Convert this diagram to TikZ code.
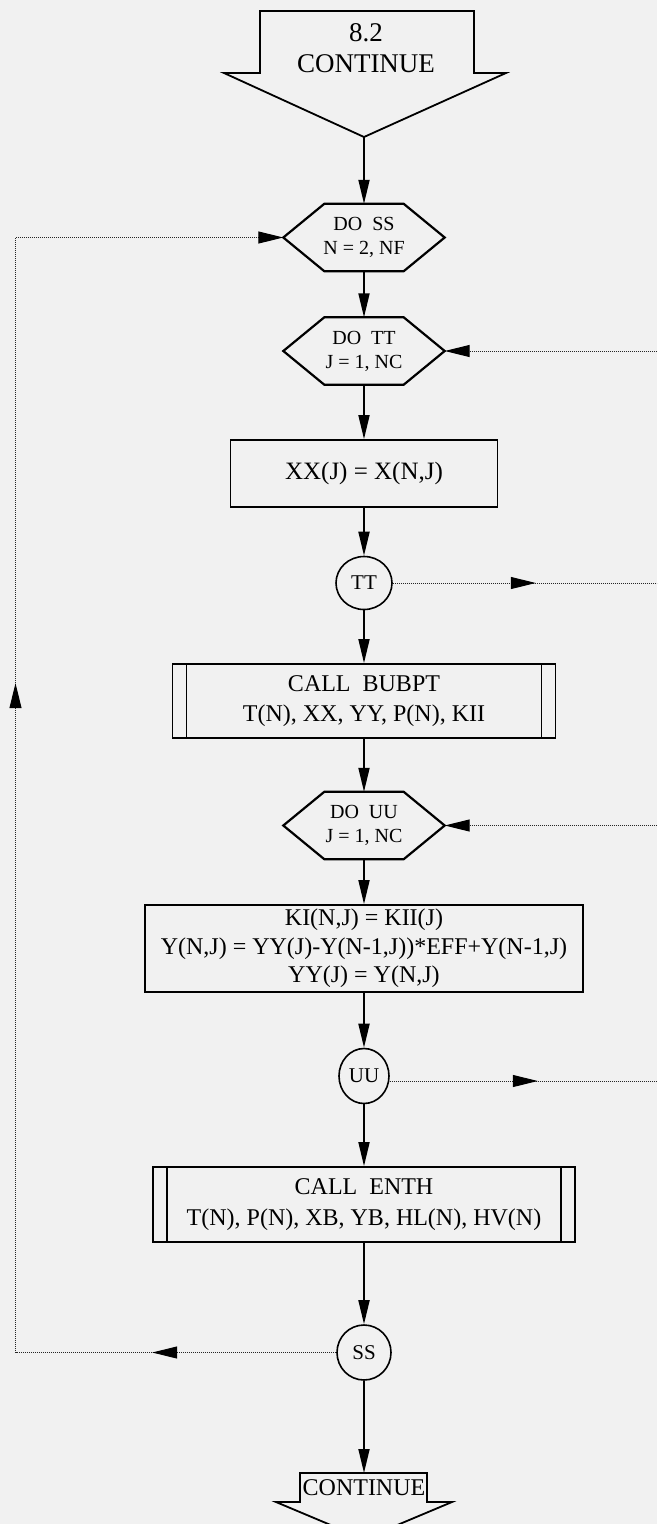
\documentclass[tikz,border=0pt]{standalone}
\usepackage{fontspec}
\setmainfont{Liberation Serif}
\usetikzlibrary{arrows.meta,shapes.geometric,decorations.markings}
\definecolor{paper}{RGB}{241,241,241}
\newcommand\hexdraw[1]{\draw[hexline] (#1.west) -- ([xshift=41pt]#1.north west) -- ([xshift=-41pt]#1.north east) -- (#1.east) -- ([xshift=-41pt]#1.south east) -- ([xshift=41pt]#1.south west) -- cycle;}
\newcommand\sidebars[1]{\draw[line width=1.6pt] ([xshift=15pt]#1.north west) -- ([xshift=15pt]#1.south west) ([xshift=-15pt]#1.north east) -- ([xshift=-15pt]#1.south east);}
\begin{document}
\begin{tikzpicture}[x=1pt,y=-1pt,
  hexline/.style={line width=2.2pt, line join=miter},
  shapeline/.style={line width=1.8pt, line join=miter},
  bx/.style={draw, line width=1.8pt, rectangle, inner sep=0pt, align=center},
  hexn/.style={rectangle, inner sep=0pt, minimum width=161pt, minimum height=67pt, align=center, font=\fontsize{20}{24}\selectfont},
  conn/.style={draw, ellipse, line width=1.6pt, inner sep=0pt, font=\fontsize{21}{24}\selectfont},
  arr/.style={line width=1.8pt, -{Triangle[length=24pt,width=11pt]}},
  dots/.style={line width=1pt, black!85, dash pattern=on 1pt off 1pt},
  tipend/.style={-{Triangle[length=25pt,width=12pt,color=black]}},
  midtip/.style={postaction={decorate,decoration={markings,mark=at position #1 with {\arrow{Triangle[length=25pt,width=12pt,color=black]}}}}}
]
\clip (0,0) rectangle (657,1524);
\fill[paper] (0,0) rectangle (657,1524);

% top off-page connector arrow
\draw[shapeline] (260,11) -- (474,11) -- (474,73) -- (506,73) -- (364,137) -- (224,73) -- (260,73) -- cycle;
\node[align=center, inner sep=0pt, font=\fontsize{27}{31}\selectfont] (top) at (366,48) {8.2\\CONTINUE};
\coordinate (toptip) at (364,137);

% DO SS
\node[hexn] (doss) at (364,237.5) {DO\ \ SS\\N = 2, NF};
\hexdraw{doss}
% DO TT
\node[hexn] (dott) at (364,351) {DO\ \ TT\\J = 1, NC};
\hexdraw{dott}
% XX box
\node[bx, minimum width=267pt, minimum height=67pt, font=\fontsize{25}{28}\selectfont] (xx) at (364,473.5) {XX(J) = X(N,J)};
% TT connector
\node[conn, minimum width=56pt, minimum height=53pt] (tt) at (364,583) {TT};
% CALL BUBPT
\node[bx, minimum width=383pt, minimum height=74pt, font=\fontsize{24}{30}\selectfont] (bubpt) at (364,701) {CALL\ \ BUBPT\\T(N), XX, YY, P(N), KII};
\sidebars{bubpt}
% DO UU
\node[hexn] (douu) at (364,825.5) {DO\ \ UU\\J = 1, NC};
\hexdraw{douu}
% KI box
\node[bx, minimum width=438pt, minimum height=87pt, font=\fontsize{24}{28.5}\selectfont] (ki) at (364,948.5) {KI(N,J) = KII(J)\\Y(N,J) = YY(J)-Y(N-1,J))*EFF+Y(N-1,J)\\YY(J) = Y(N,J)};
% UU connector
\node[conn, minimum width=50pt, minimum height=55pt] (uu) at (364,1076) {UU};
% CALL ENTH
\node[bx, minimum width=422pt, minimum height=75pt, font=\fontsize{24}{31}\selectfont] (enth) at (364,1204.5) {CALL\ \ ENTH\\T(N), P(N), XB, YB, HL(N), HV(N)};
\sidebars{enth}
% SS connector
\node[conn, minimum width=54pt, minimum height=55pt] (ss) at (364,1352.5) {SS};

% bottom off-page connector
\draw[shapeline] (300,1473) -- (427,1473) -- (427,1502) -- (452,1502) -- (364,1539) -- (276,1502) -- (300,1502) -- cycle;
\node[inner sep=0pt, font=\fontsize{24}{28}\selectfont] (bot) at (364,1488) {CONTINUE};
\coordinate (bottop) at (364,1473);

% main flow
\draw[arr] (toptip) -- (doss.north);
\draw[arr] (doss.south) -- (dott.north);
\draw[arr] (dott.south) -- (xx.north);
\draw[arr] (xx.south) -- (tt.north);
\draw[arr] (tt.south) -- (bubpt.north);
\draw[arr] (bubpt.south) -- (douu.north);
\draw[arr] (douu.south) -- (ki.north);
\draw[arr] (ki.south) -- (uu.north);
\draw[arr] (uu.south) -- (enth.north);
\draw[arr] (enth.south) -- (ss.north);
\draw[arr] (ss.south) -- (bottop);

% loop connectors (dotted)
\coordinate (rtt) at (657,351);
\coordinate (rtto) at (657,583);
\coordinate (ruu) at (657,825.5);
\coordinate (ruuo) at (657,1081);
\coordinate (lbot) at (15.5,1352.5);
\coordinate (ltop) at (15.5,237.5);

\draw[dots, tipend] (rtt) -- (dott.east);
\draw[dots, midtip=143pt] (tt.east) -- (rtto);
\draw[dots, tipend] (ruu) -- (douu.east);
\draw[dots, midtip=148pt] (uu.east |- ruuo) -- (ruuo);
\draw[dots, tipend, postaction={decorate,decoration={markings,
    mark=at position 184pt with {\arrow{Triangle[length=25pt,width=12pt,color=black]}},
    mark=at position 990pt with {\arrow{Triangle[length=25pt,width=12pt,color=black]}}}}]
  (ss.west) -- (lbot) -- (ltop) -- (doss.west);
\end{tikzpicture}
\end{document}
